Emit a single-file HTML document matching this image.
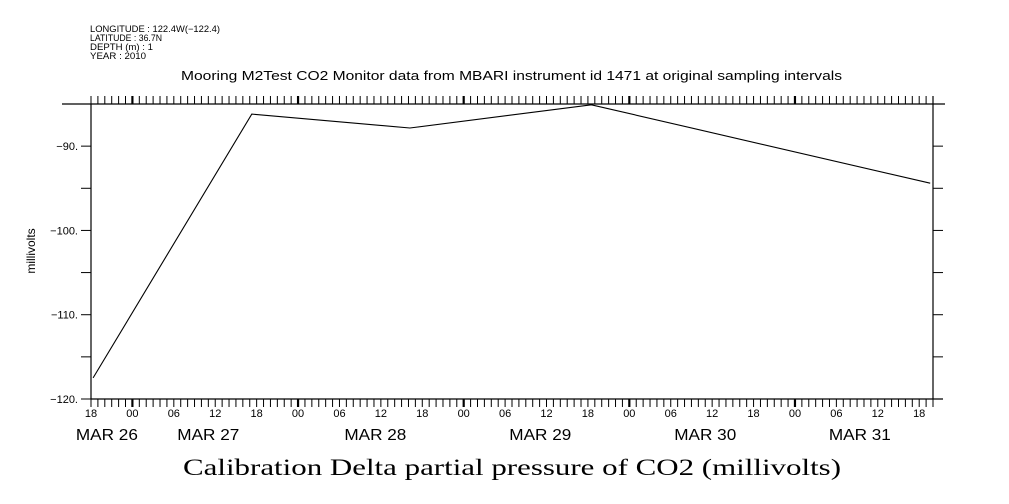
<!DOCTYPE html>
<html><head><meta charset="utf-8"><style>
body{margin:0;background:#fff}
svg{display:block}
text{font-family:"Liberation Sans",sans-serif;fill:#000}
</style></head><body>
<svg id="chart" width="1009" height="504" viewBox="0 0 1009 504" xmlns="http://www.w3.org/2000/svg">
<g font-size="9">
<text x="90" y="32" textLength="130" lengthAdjust="spacingAndGlyphs">LONGITUDE : 122.4W(−122.4)</text>
<text x="90" y="41" textLength="72" lengthAdjust="spacingAndGlyphs">LATITUDE : 36.7N</text>
<text x="90" y="50" textLength="63" lengthAdjust="spacingAndGlyphs">DEPTH (m) : 1</text>
<text x="90" y="59" textLength="56" lengthAdjust="spacingAndGlyphs">YEAR : 2010</text>
</g>
<text x="181" y="80" textLength="661" lengthAdjust="spacingAndGlyphs" font-size="13">Mooring M2Test CO2 Monitor data from MBARI instrument id 1471 at original sampling intervals</text>
<text transform="translate(35,251) rotate(-90)" text-anchor="middle" font-size="12">millivolts</text>
<text x="183" y="475" textLength="658" lengthAdjust="spacingAndGlyphs" font-size="23" style="font-family:'Liberation Serif',serif">Calibration Delta partial pressure of CO2 (millivolts)</text>
<g id="axes"></g>
<g id="marks"></g>
</svg>
<script>
const hours = [0.3, 23.3, 46.2, 72.5, 121.6];
const values = [-117.5, -86.2, -87.85, -85.1, -94.4];
const yTicks = [-120, -110, -100, -90];
const yTickLabels = ["-120.", "-110.", "-100.", "-90."];
const hourLabels = ["18","00","06","12","18","00","06","12","18","00","06","12","18","00","06","12","18","00","06","12","18"];
const dayLabels = ["MAR 26","MAR 27","MAR 28","MAR 29","MAR 30","MAR 31"];
const dayLabelHours = [2.3, 17, 41.2, 65.1, 89, 111.4];
const xMax = 122, yMin = -120, yMax = -85;
const L=91, R=933, T=104, B=399;
const NS="http://www.w3.org/2000/svg";
const xs = t => L + t/xMax*(R-L);
const ys = v => B - (v-yMin)/(yMax-yMin)*(B-T);
function mk(tag, attrs, parent){const e=document.createElementNS(NS,tag);for(const k in attrs)e.setAttribute(k,attrs[k]);parent.appendChild(e);return e;}
const ax=document.getElementById('axes'), mg=document.getElementById('marks');
let e;
e=mk('line',{x1:L,y1:T,x2:L,y2:B,stroke:'#000','stroke-width':1.2},ax);


e=mk('line',{x1:R,y1:T-8,x2:R,y2:B,stroke:'#000','stroke-width':1.2},ax);


e=mk('line',{x1:62,y1:T,x2:945,y2:T,stroke:'#000','stroke-width':1.2},ax);


e=mk('line',{x1:L,y1:B,x2:943,y2:B,stroke:'#000','stroke-width':1.2},ax);


for(let v=yMin; v<=yMax; v+=5){
  const y=ys(v);
  e=mk('line',{x1:L-10,y1:y,x2:L,y2:y,stroke:'#000','stroke-width':1},ax);
  
  
  e=mk('line',{x1:R,y1:y,x2:R+10,y2:y,stroke:'#000','stroke-width':1},ax);
  
  
}
yTicks.forEach((v,i)=>{
  const t=mk('text',{x:L-13,y:ys(v)+4,'text-anchor':'end','font-size':11},ax);
  t.textContent=yTickLabels[i].replace('-','−');
  
  
});
for(let h=0; h<=xMax; h++){
  const x=xs(h); const major=((h+18)%24===0);
  e=mk('line',{x1:x,y1:T,x2:x,y2:T-8,stroke:'#000','stroke-width':major?2.2:1},ax);
  
  
  e=mk('line',{x1:x,y1:B,x2:x,y2:B+8,stroke:'#000','stroke-width':major?2.2:1},ax);
  
  
}
hourLabels.forEach((s,i)=>{
  const t=mk('text',{x:xs(i*6),y:417,'text-anchor':'middle','font-size':11},ax);
  t.textContent=s;
  
  
});
dayLabels.forEach((s,i)=>{
  const t=mk('text',{x:xs(dayLabelHours[i])-31,y:440,'font-size':16,textLength:62,lengthAdjust:'spacingAndGlyphs'},ax);
  t.textContent=s;
  
  
});
const pts=hours.map((h,i)=>xs(h).toFixed(1)+','+ys(values[i]).toFixed(1)).join(' ');
e=mk('polyline',{points:pts,fill:'none',stroke:'#000','stroke-width':1.1},mg);


</script>
</body></html>
